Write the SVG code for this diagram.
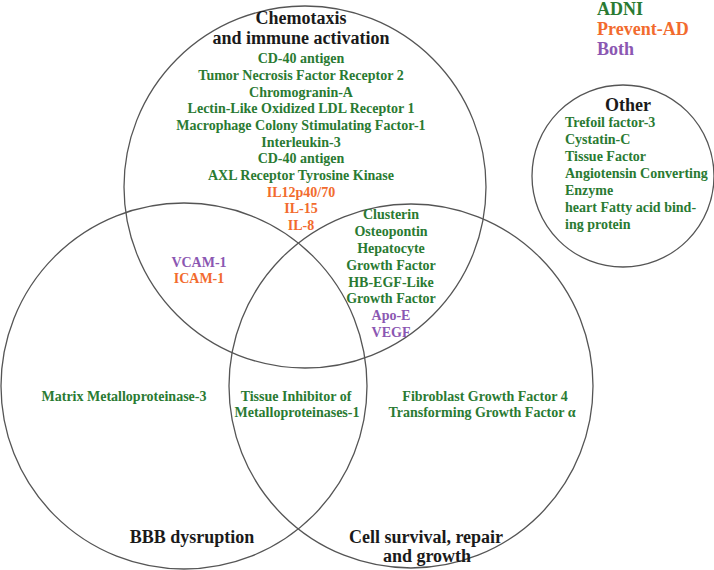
<svg xmlns="http://www.w3.org/2000/svg" width="714" height="570" viewBox="0 0 714 570">
<style>
.c{fill:none;stroke:#555;stroke-width:1.3}
text{font-family:"Liberation Serif","Times New Roman",serif;font-weight:bold}
.h{font-size:18px;fill:#1a1a1a;text-anchor:middle}
.hl{font-size:18px;fill:#1a1a1a}
.g{fill:#2a7a32}
.o{fill:#f26b2e}
.p{fill:#8b57b2}
.t{font-size:14px;text-anchor:middle}
.tl{font-size:14px}
</style>
<rect width="714" height="570" fill="#fff"/>
<g id="chemotaxis">
<circle class="c" cx="305" cy="187" r="181"/>
<text class="h" x="301" y="24">Chemotaxis</text>
<text class="h" x="301" y="44">and immune activation</text>
<text class="t g" x="301" y="63">CD-40 antigen</text>
<text class="t g" x="301" y="80">Tumor Necrosis Factor Receptor 2</text>
<text class="t g" x="301" y="96.5">Chromogranin-A</text>
<text class="t g" x="301" y="113">Lectin-Like Oxidized LDL Receptor 1</text>
<text class="t g" x="301" y="130">Macrophage Colony Stimulating Factor-1</text>
<text class="t g" x="301" y="146.5">Interleukin-3</text>
<text class="t g" x="301" y="163">CD-40 antigen</text>
<text class="t g" x="301" y="180">AXL Receptor Tyrosine Kinase</text>
<text class="t o" x="301" y="196.5">IL12p40/70</text>
<text class="t o" x="301" y="213">IL-15</text>
<text class="t o" x="301" y="230">IL-8</text>
</g>
<g id="bbb">
<circle class="c" cx="184" cy="386" r="183"/>
<text class="h" x="192" y="543">BBB dysruption</text>
<text class="t g" x="124" y="401">Matrix Metalloproteinase-3</text>
</g>
<g id="cell-survival">
<circle class="c" cx="411" cy="386" r="182"/>
<text class="h" x="426" y="543">Cell survival, repair</text>
<text class="h" x="427" y="562">and growth</text>
<text class="t g" x="485" y="401">Fibroblast Growth Factor 4</text>
<text class="t g" x="482" y="417">Transforming Growth Factor α</text>
</g>
<g id="overlap-chemo-bbb">
<text class="t p" x="199" y="267">VCAM-1</text>
<text class="t o" x="199" y="283">ICAM-1</text>
</g>
<g id="overlap-chemo-cell">
<text class="t g" x="391" y="219">Clusterin</text>
<text class="t g" x="391" y="236">Osteopontin</text>
<text class="t g" x="391" y="253">Hepatocyte</text>
<text class="t g" x="391" y="270">Growth Factor</text>
<text class="t g" x="391" y="287">HB-EGF-Like</text>
<text class="t g" x="391" y="303">Growth Factor</text>
<text class="t p" x="391" y="320">Apo-E</text>
<text class="t p" x="391" y="337">VEGF</text>
</g>
<g id="overlap-bbb-cell">
<text class="t g" x="296" y="401">Tissue Inhibitor of</text>
<text class="t g" x="297" y="417">Metalloproteinases-1</text>
</g>
<g id="other">
<circle class="c" cx="623" cy="176" r="91"/>
<text class="h" x="628" y="111">Other</text>
<text class="tl g" x="565" y="127">Trefoil factor-3</text>
<text class="tl g" x="565" y="144">Cystatin-C</text>
<text class="tl g" x="565" y="161">Tissue Factor</text>
<text class="tl g" x="565" y="178">Angiotensin Converting</text>
<text class="tl g" x="565" y="195">Enzyme</text>
<text class="tl g" x="565" y="212">heart Fatty acid bind-</text>
<text class="tl g" x="565" y="229">ing protein</text>
</g>
<g id="legend">
<text class="hl g" x="597" y="15">ADNI</text>
<text class="hl o" x="597" y="35">Prevent-AD</text>
<text class="hl p" x="597" y="55">Both</text>
</g>
</svg>
